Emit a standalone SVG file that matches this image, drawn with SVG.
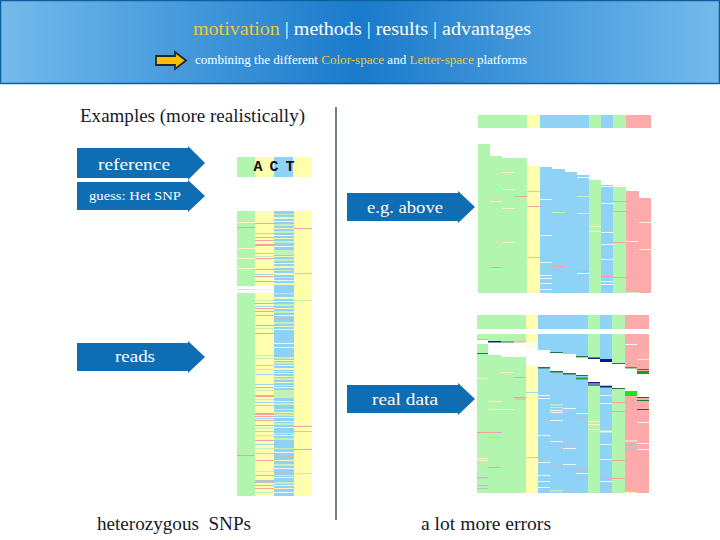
<svg xmlns="http://www.w3.org/2000/svg" width="720" height="540" viewBox="0 0 720 540">
<defs>
<linearGradient id="hdr" x1="0" y1="0" x2="1" y2="0">
<stop offset="0" stop-color="#74baec"/>
<stop offset="0.5" stop-color="#1a7acb"/>
<stop offset="1" stop-color="#74baec"/>
</linearGradient>
<style>
text{font-family:"Liberation Serif","DejaVu Serif",serif}
text.mono{font-family:"Liberation Mono","DejaVu Sans Mono",monospace;font-weight:bold;font-size:15px;fill:#111}
.dk{fill:#161a28}
.wt{fill:#ffffff}
.hl{fill:#ecc83a}
.ar{fill:#0e6db3}
.G{fill:#b2f5ae}
.Y{fill:#ffffae}
.B{fill:#8ed2f8}
.P{fill:#ffaaaa}
.W{fill:#ffffff}
.lp{fill:#f2a4a0}
.lb{fill:#a8d4f4}
.lg{fill:#c4f0b8}
.ly{fill:#f8f8b4}
.lw{fill:#eef6fa}
.lr{fill:#b8c2cc}
.dg{fill:#1f7a3f}
.nv{fill:#14207a}
</style>
</defs>

<g id="header">
<rect x="0.5" y="0.5" width="719" height="83" fill="url(#hdr)" stroke="#0d5f9f" stroke-width="1.5"/>
<text x="193" y="35" font-size="18" textLength="338" lengthAdjust="spacingAndGlyphs"><tspan class="hl">motivation</tspan><tspan class="wt"> | methods | results | advantages</tspan></text>
<path d="M156 56 H175 V52 L186 60.5 L175 69 V65 H156 Z" fill="#f8c000" stroke="#1c2838" stroke-width="1.8"/>
<text x="195" y="64" font-size="12" textLength="332" lengthAdjust="spacingAndGlyphs"><tspan class="wt">combining the different </tspan><tspan class="hl">Color-space</tspan><tspan class="wt"> and </tspan><tspan class="hl">Letter-space</tspan><tspan class="wt"> platforms</tspan></text>
</g>

<text class="dk" x="80" y="122" font-size="18" textLength="225" lengthAdjust="spacingAndGlyphs">Examples (more realistically)</text>

<g id="connectors">
<line x1="336" y1="107" x2="336" y2="520" stroke="#2a3a50" stroke-width="1.3"/>
</g>

<g id="node-reference">
<path class="ar" d="M77 148 H188 V146 L205 163 L188 180 V178 H77 Z"/>
<text class="wt" x="134" y="170" font-size="17" text-anchor="middle" textLength="72" lengthAdjust="spacingAndGlyphs">reference</text>
</g>
<g id="node-guess">
<path class="ar" d="M77 182 H188 V180 L205 196 L188 212 V210 H77 Z"/>
<text class="wt" x="135" y="200" font-size="13" text-anchor="middle" textLength="92" lengthAdjust="spacingAndGlyphs">guess: Het SNP</text>
</g>
<g id="node-reads">
<path class="ar" d="M77 343 H188 V341 L205 357 L188 373 V371 H77 Z"/>
<text class="wt" x="135" y="362" font-size="17" text-anchor="middle" textLength="40" lengthAdjust="spacingAndGlyphs">reads</text>
</g>
<g id="node-eg-above">
<path class="ar" d="M347 193 H458 V191 L475 207 L458 223 V221 H347 Z"/>
<text class="wt" x="405" y="213" font-size="17" text-anchor="middle" textLength="76" lengthAdjust="spacingAndGlyphs">e.g. above</text>
</g>
<g id="node-real-data">
<path class="ar" d="M347 385 H458 V383 L475 399 L458 415 V413 H347 Z"/>
<text class="wt" x="405" y="405" font-size="17" text-anchor="middle" textLength="66" lengthAdjust="spacingAndGlyphs">real data</text>
</g>

<g id="node-ref-seq">
<rect x="237" y="157" width="18" height="20" class="G"/>
<rect x="255" y="157" width="19" height="20" class="Y"/>
<rect x="274" y="157" width="19" height="20" class="B"/>
<rect x="293" y="157" width="19" height="20" class="Y"/>
<text class="mono" x="258" y="171" text-anchor="middle">A</text>
<text class="mono" x="274" y="171" text-anchor="middle">C</text>
<text class="mono" x="290" y="171" text-anchor="middle">T</text>
</g>

<g id="node-left-reads">
<rect x="237" y="211" width="18" height="285" class="G"/>
<rect x="255" y="211" width="19" height="285" class="Y"/>
<rect x="274" y="211" width="20" height="285" class="B"/>
<rect x="294" y="211" width="18" height="285" class="Y"/>
<rect x="237" y="222" width="18" height="1" class="ly"/>
<rect x="237" y="227" width="18" height="1" class="lp"/>
<rect x="237" y="248" width="18" height="1" class="ly"/>
<rect x="237" y="258" width="18" height="1" class="ly"/>
<rect x="237" y="268" width="18" height="1" class="ly"/>
<rect x="237" y="286" width="37" height="7" class="W"/>
<rect x="237" y="289" width="18" height="1" class="lg"/>
<rect x="255" y="289" width="19" height="1" class="ly"/>
<rect x="237" y="455" width="18" height="1" class="lp"/>
<rect x="255" y="223" width="19" height="1" class="lp"/>
<rect x="255" y="233" width="19" height="1" class="lb"/>
<rect x="255" y="237" width="19" height="1" class="lp"/>
<rect x="255" y="240" width="19" height="1" class="lp"/>
<rect x="255" y="244" width="19" height="2" class="lp"/>
<rect x="255" y="253" width="19" height="1" class="lb"/>
<rect x="255" y="256" width="19" height="1" class="lg"/>
<rect x="255" y="258" width="19" height="1" class="lp"/>
<rect x="255" y="269" width="19" height="1" class="lp"/>
<rect x="255" y="274" width="19" height="1" class="lb"/>
<rect x="255" y="276" width="19" height="1" class="lp"/>
<rect x="255" y="281" width="19" height="1" class="lp"/>
<rect x="255" y="300" width="19" height="1" class="lg"/>
<rect x="255" y="303" width="19" height="1" class="lp"/>
<rect x="255" y="306" width="19" height="1" class="lb"/>
<rect x="255" y="308" width="19" height="1" class="lp"/>
<rect x="255" y="311" width="19" height="1" class="lp"/>
<rect x="255" y="315" width="19" height="1" class="lp"/>
<rect x="255" y="325" width="19" height="1" class="lp"/>
<rect x="255" y="328" width="19" height="1" class="lg"/>
<rect x="255" y="333" width="19" height="1" class="lp"/>
<rect x="255" y="355" width="19" height="1" class="lg"/>
<rect x="255" y="358" width="19" height="1" class="lg"/>
<rect x="255" y="365" width="19" height="1" class="lb"/>
<rect x="255" y="369" width="19" height="1" class="lg"/>
<rect x="255" y="374" width="19" height="1" class="lb"/>
<rect x="255" y="384" width="19" height="1" class="lb"/>
<rect x="255" y="387" width="19" height="1" class="lp"/>
<rect x="255" y="390" width="19" height="1" class="lg"/>
<rect x="255" y="395" width="19" height="2" class="lp"/>
<rect x="255" y="399" width="19" height="1" class="lg"/>
<rect x="255" y="402" width="19" height="1" class="lb"/>
<rect x="255" y="405" width="19" height="1" class="lb"/>
<rect x="255" y="413" width="19" height="2" class="lp"/>
<rect x="255" y="416" width="19" height="1" class="lp"/>
<rect x="255" y="418" width="19" height="1" class="lb"/>
<rect x="255" y="420" width="19" height="1" class="lp"/>
<rect x="255" y="425" width="19" height="1" class="lp"/>
<rect x="255" y="428" width="19" height="1" class="lg"/>
<rect x="255" y="431" width="19" height="1" class="lb"/>
<rect x="255" y="435" width="19" height="1" class="lg"/>
<rect x="255" y="440" width="19" height="1" class="lp"/>
<rect x="255" y="444" width="19" height="1" class="lb"/>
<rect x="255" y="448" width="19" height="1" class="lg"/>
<rect x="255" y="453" width="19" height="1" class="lb"/>
<rect x="255" y="460" width="19" height="1" class="lp"/>
<rect x="255" y="471" width="19" height="1" class="lg"/>
<rect x="255" y="475" width="19" height="1" class="lp"/>
<rect x="255" y="480" width="19" height="3" class="lr"/>
<rect x="255" y="485" width="19" height="1" class="lr"/>
<rect x="255" y="488" width="19" height="1" class="lp"/>
<rect x="255" y="492" width="19" height="1" class="lg"/>
<rect x="274" y="214" width="20" height="1" class="lg"/>
<rect x="274" y="217" width="20" height="2" class="ly"/>
<rect x="274" y="221" width="20" height="1" class="lw"/>
<rect x="274" y="224" width="20" height="2" class="lg"/>
<rect x="274" y="228" width="20" height="1" class="ly"/>
<rect x="274" y="231" width="20" height="2" class="lg"/>
<rect x="274" y="235" width="20" height="1" class="lw"/>
<rect x="274" y="238" width="20" height="1" class="ly"/>
<rect x="274" y="241" width="20" height="2" class="lg"/>
<rect x="274" y="246" width="20" height="1" class="lw"/>
<rect x="274" y="250" width="20" height="5" class="lg"/>
<rect x="274" y="256" width="20" height="1" class="ly"/>
<rect x="274" y="259" width="20" height="2" class="lg"/>
<rect x="274" y="263" width="20" height="1" class="lw"/>
<rect x="274" y="266" width="20" height="2" class="ly"/>
<rect x="274" y="270" width="20" height="1" class="lg"/>
<rect x="274" y="273" width="20" height="2" class="ly"/>
<rect x="274" y="277" width="20" height="1" class="lg"/>
<rect x="274" y="280" width="20" height="1" class="lw"/>
<rect x="274" y="283" width="20" height="2" class="ly"/>
<rect x="274" y="293" width="20" height="1" class="lg"/>
<rect x="274" y="297" width="20" height="2" class="ly"/>
<rect x="274" y="301" width="20" height="1" class="lw"/>
<rect x="274" y="304" width="20" height="2" class="lg"/>
<rect x="274" y="308" width="20" height="1" class="ly"/>
<rect x="274" y="311" width="20" height="2" class="lg"/>
<rect x="274" y="315" width="20" height="1" class="lw"/>
<rect x="274" y="318" width="20" height="1" class="lr"/>
<rect x="274" y="322" width="20" height="2" class="lg"/>
<rect x="274" y="326" width="20" height="1" class="ly"/>
<rect x="274" y="329" width="20" height="1" class="lw"/>
<rect x="274" y="343" width="20" height="1" class="lw"/>
<rect x="274" y="347" width="20" height="1" class="lw"/>
<rect x="274" y="355" width="20" height="1" class="lr"/>
<rect x="274" y="357" width="20" height="2" class="lg"/>
<rect x="274" y="360" width="20" height="1" class="ly"/>
<rect x="274" y="362" width="20" height="2" class="lg"/>
<rect x="274" y="365" width="20" height="1" class="lw"/>
<rect x="274" y="368" width="20" height="2" class="ly"/>
<rect x="274" y="371" width="20" height="1" class="lg"/>
<rect x="274" y="373" width="20" height="1" class="lw"/>
<rect x="274" y="376" width="20" height="1" class="ly"/>
<rect x="274" y="378" width="20" height="2" class="lg"/>
<rect x="274" y="382" width="20" height="1" class="ly"/>
<rect x="274" y="385" width="20" height="1" class="lg"/>
<rect x="274" y="387" width="20" height="1" class="lw"/>
<rect x="274" y="390" width="20" height="8" class="lg"/>
<rect x="274" y="401" width="20" height="1" class="ly"/>
<rect x="274" y="403" width="20" height="2" class="lg"/>
<rect x="274" y="407" width="20" height="1" class="lr"/>
<rect x="274" y="409" width="20" height="1" class="lg"/>
<rect x="274" y="412" width="20" height="1" class="ly"/>
<rect x="274" y="414" width="20" height="2" class="lg"/>
<rect x="274" y="417" width="20" height="1" class="lw"/>
<rect x="274" y="421" width="20" height="1" class="ly"/>
<rect x="274" y="423" width="20" height="2" class="lg"/>
<rect x="274" y="427" width="20" height="1" class="ly"/>
<rect x="274" y="429" width="20" height="1" class="lr"/>
<rect x="274" y="433" width="20" height="1" class="lg"/>
<rect x="274" y="435" width="20" height="1" class="ly"/>
<rect x="274" y="438" width="20" height="2" class="lg"/>
<rect x="274" y="448" width="20" height="1" class="lg"/>
<rect x="274" y="452" width="20" height="1" class="lw"/>
<rect x="274" y="456" width="20" height="1" class="lr"/>
<rect x="274" y="460" width="20" height="1" class="ly"/>
<rect x="274" y="464" width="20" height="2" class="lg"/>
<rect x="274" y="468" width="20" height="1" class="lw"/>
<rect x="274" y="472" width="20" height="1" class="lr"/>
<rect x="274" y="475" width="20" height="1" class="lg"/>
<rect x="274" y="477" width="20" height="1" class="ly"/>
<rect x="274" y="482" width="20" height="2" class="lg"/>
<rect x="274" y="485" width="20" height="1" class="lw"/>
<rect x="274" y="488" width="20" height="1" class="ly"/>
<rect x="274" y="492" width="20" height="1" class="lw"/>
<rect x="294" y="228" width="18" height="1" class="lp"/>
<rect x="294" y="273" width="18" height="1" class="lb"/>
<rect x="294" y="300" width="18" height="1" class="lg"/>
<rect x="294" y="426" width="18" height="1" class="lp"/>
<rect x="294" y="431" width="18" height="1" class="lb"/>
<rect x="294" y="449" width="18" height="1" class="lp"/>
<rect x="294" y="473" width="18" height="1" class="lg"/>
</g>

<g id="node-pileup-top">
<rect x="478" y="115" width="49" height="13" class="G"/>
<rect x="527" y="115" width="13" height="13" class="Y"/>
<rect x="540" y="115" width="49" height="13" class="B"/>
<rect x="589" y="115" width="12" height="13" class="G"/>
<rect x="601" y="115" width="12" height="13" class="B"/>
<rect x="613" y="115" width="13" height="13" class="G"/>
<rect x="626" y="115" width="25" height="13" class="P"/>
<rect x="478" y="144" width="12" height="149" class="G"/>
<rect x="490" y="156" width="12" height="137" class="G"/>
<rect x="502" y="158" width="25" height="135" class="G"/>
<rect x="527" y="166" width="13" height="127" class="Y"/>
<rect x="540" y="167" width="12" height="126" class="B"/>
<rect x="552" y="169" width="13" height="124" class="B"/>
<rect x="565" y="172" width="12" height="121" class="B"/>
<rect x="577" y="175" width="12" height="118" class="B"/>
<rect x="589" y="180" width="12" height="113" class="G"/>
<rect x="601" y="185" width="12" height="108" class="B"/>
<rect x="613" y="187" width="13" height="106" class="G"/>
<rect x="626" y="191" width="13" height="102" class="P"/>
<rect x="639" y="198" width="12" height="95" class="P"/>
<rect x="502" y="172" width="13" height="1" class="ly"/>
<rect x="502" y="189" width="13" height="1" class="ly"/>
<rect x="490" y="201" width="12" height="1" class="ly"/>
<rect x="502" y="208" width="13" height="1" class="ly"/>
<rect x="515" y="196" width="12" height="1" class="lp"/>
<rect x="502" y="242" width="13" height="1" class="ly"/>
<rect x="490" y="267" width="12" height="1" class="lp"/>
<rect x="527" y="191" width="13" height="1" class="lb"/>
<rect x="527" y="206" width="13" height="1" class="lp"/>
<rect x="527" y="257" width="13" height="1" class="lb"/>
<rect x="540" y="199" width="12" height="1" class="lw"/>
<rect x="552" y="212" width="13" height="1" class="lg"/>
<rect x="577" y="177" width="12" height="1" class="lw"/>
<rect x="577" y="196" width="12" height="1" class="lg"/>
<rect x="577" y="213" width="12" height="1" class="lg"/>
<rect x="540" y="235" width="12" height="1" class="lw"/>
<rect x="540" y="262" width="12" height="1" class="lw"/>
<rect x="552" y="266" width="13" height="1" class="lp"/>
<rect x="577" y="271" width="12" height="1" class="lp"/>
<rect x="577" y="273" width="12" height="1" class="lw"/>
<rect x="540" y="275" width="12" height="1" class="lw"/>
<rect x="540" y="278" width="12" height="1" class="lw"/>
<rect x="540" y="283" width="12" height="1" class="lw"/>
<rect x="540" y="289" width="12" height="1" class="lw"/>
<rect x="589" y="226" width="12" height="1" class="ly"/>
<rect x="589" y="231" width="12" height="1" class="ly"/>
<rect x="601" y="186" width="12" height="1" class="lw"/>
<rect x="601" y="203" width="12" height="1" class="lw"/>
<rect x="601" y="232" width="12" height="1" class="lw"/>
<rect x="601" y="244" width="12" height="1" class="lw"/>
<rect x="601" y="259" width="12" height="1" class="lw"/>
<rect x="601" y="276" width="12" height="1" class="lp"/>
<rect x="601" y="281" width="12" height="1" class="lw"/>
<rect x="601" y="284" width="12" height="1" class="lw"/>
<rect x="613" y="201" width="13" height="1" class="lp"/>
<rect x="613" y="211" width="13" height="1" class="lp"/>
<rect x="613" y="242" width="13" height="1" class="lp"/>
<rect x="613" y="277" width="13" height="1" class="lp"/>
<rect x="639" y="222" width="12" height="1" class="ly"/>
<rect x="626" y="241" width="13" height="1" class="ly"/>
<rect x="639" y="249" width="12" height="1" class="ly"/>
<rect x="626" y="292" width="13" height="1" class="lg"/>
</g>

<g id="node-pileup-bottom">
<rect x="477" y="315" width="49" height="14" class="G"/>
<rect x="526" y="315" width="12" height="14" class="Y"/>
<rect x="538" y="315" width="50" height="14" class="B"/>
<rect x="588" y="315" width="12" height="14" class="G"/>
<rect x="600" y="315" width="12" height="14" class="B"/>
<rect x="612" y="315" width="13" height="14" class="G"/>
<rect x="625" y="315" width="24" height="14" class="P"/>
<rect x="477" y="334" width="49" height="159" class="G"/>
<rect x="526" y="334" width="12" height="159" class="Y"/>
<rect x="538" y="334" width="50" height="159" class="B"/>
<rect x="588" y="334" width="12" height="159" class="G"/>
<rect x="600" y="334" width="12" height="159" class="B"/>
<rect x="612" y="334" width="13" height="159" class="G"/>
<rect x="625" y="334" width="24" height="159" class="P"/>
<rect x="477" y="339" width="11" height="1" class="lr"/>
<rect x="477" y="340" width="11" height="4" class="W"/>
<rect x="488" y="342" width="13" height="13" class="W"/>
<rect x="501" y="342" width="25" height="15" class="W"/>
<rect x="526" y="341" width="12" height="7" fill="#fffde0"/>
<rect x="526" y="348" width="12" height="18" class="W"/>
<rect x="538" y="350" width="12" height="17" class="W"/>
<rect x="550" y="353" width="13" height="18" class="W"/>
<rect x="563" y="354" width="13" height="19" class="W"/>
<rect x="576" y="358" width="12" height="17" class="W"/>
<rect x="588" y="359" width="12" height="23" class="W"/>
<rect x="600" y="362" width="12" height="23" class="W"/>
<rect x="612" y="364" width="13" height="24" class="W"/>
<rect x="625" y="368" width="12" height="23" class="W"/>
<rect x="637" y="374" width="12" height="23" class="W"/>
<rect x="488" y="341" width="13" height="1.5" class="nv"/>
<rect x="501" y="341.5" width="13" height="1" class="dg"/>
<rect x="514" y="341.5" width="12" height="1" class="lp"/>
<rect x="477" y="353" width="11" height="1" class="dg"/>
<rect x="538" y="367" width="12" height="1.5" class="dg"/>
<rect x="550" y="352" width="13" height="1" class="dg"/>
<rect x="550" y="371" width="13" height="1.5" class="dg"/>
<rect x="563" y="373" width="13" height="1.5" class="dg"/>
<rect x="576" y="347" width="12" height="1" class="lr"/>
<rect x="576" y="356" width="12" height="1" class="dg"/>
<rect x="576" y="375" width="12" height="1" class="dg"/>
<rect x="576" y="377.5" width="12" height="2" fill="#20a040"/>
<rect x="588" y="357.5" width="12" height="1.5" class="nv"/>
<rect x="588" y="382" width="12" height="1.5" class="nv"/>
<rect x="588" y="384.5" width="12" height="1" class="nv"/>
<rect x="600" y="359" width="12" height="3" fill="#0a1a80"/>
<rect x="600" y="386" width="12" height="1.5" class="nv"/>
<rect x="612" y="363" width="13" height="1" class="dg"/>
<rect x="612" y="388" width="13" height="1" class="dg"/>
<rect x="625" y="367" width="12" height="1.5" fill="#40a040"/>
<rect x="625" y="391" width="12" height="5" fill="#22e022"/>
<rect x="637" y="369" width="12" height="1" class="dg"/>
<rect x="637" y="371" width="12" height="3" fill="#1a9a2a"/>
<rect x="637" y="397" width="12" height="1" fill="#6030a0"/>
<rect x="637" y="400" width="12" height="1" class="dg"/>
<rect x="637" y="409" width="12" height="1" fill="#6030a0"/>
<rect x="501" y="372" width="13" height="1" class="ly"/>
<rect x="514" y="377" width="12" height="1" class="lp"/>
<rect x="477" y="378" width="11" height="1" class="ly"/>
<rect x="514" y="397" width="12" height="1" class="lp"/>
<rect x="514" y="398.5" width="12" height="1" class="lp"/>
<rect x="488" y="401" width="13" height="1" class="ly"/>
<rect x="488" y="409" width="13" height="1" class="ly"/>
<rect x="501" y="409" width="13" height="1" class="ly"/>
<rect x="477" y="432" width="24" height="1" class="lp"/>
<rect x="488" y="437" width="13" height="1" class="lb"/>
<rect x="477" y="458" width="11" height="1" class="ly"/>
<rect x="477" y="460" width="11" height="1" class="ly"/>
<rect x="488" y="467" width="13" height="1" class="lp"/>
<rect x="477" y="477" width="11" height="1.5" class="lr"/>
<rect x="477" y="485" width="11" height="1" class="lr"/>
<rect x="477" y="488" width="11" height="1" class="lr"/>
<rect x="526" y="392" width="12" height="1" class="lb"/>
<rect x="526" y="457" width="12" height="1" class="lb"/>
<rect x="538" y="395" width="12" height="1" class="lw"/>
<rect x="538" y="398" width="12" height="1" class="lw"/>
<rect x="550" y="404" width="13" height="1.5" class="lg"/>
<rect x="550" y="407" width="13" height="1" class="lg"/>
<rect x="550" y="410" width="13" height="1" class="lw"/>
<rect x="550" y="412" width="13" height="1" class="lw"/>
<rect x="563" y="408" width="13" height="1" class="lw"/>
<rect x="576" y="413" width="12" height="1" class="lw"/>
<rect x="576" y="417" width="12" height="1.5" class="lr"/>
<rect x="550" y="420" width="13" height="1" class="lw"/>
<rect x="538" y="435" width="12" height="1" class="lw"/>
<rect x="550" y="441" width="13" height="1" class="lw"/>
<rect x="563" y="444" width="13" height="1" class="lr"/>
<rect x="563" y="448" width="13" height="1" class="lw"/>
<rect x="538" y="462" width="12" height="1" class="lw"/>
<rect x="550" y="466" width="13" height="1" class="lr"/>
<rect x="563" y="464" width="13" height="1" class="lw"/>
<rect x="576" y="469" width="12" height="3" class="lr"/>
<rect x="576" y="473" width="12" height="1" class="lw"/>
<rect x="538" y="475" width="12" height="1" class="lw"/>
<rect x="538" y="481" width="12" height="1" class="lw"/>
<rect x="538" y="487" width="12" height="1" class="lw"/>
<rect x="550" y="490" width="13" height="1.5" class="lg"/>
<rect x="588" y="421" width="12" height="1" class="ly"/>
<rect x="588" y="424" width="12" height="1" class="ly"/>
<rect x="588" y="429" width="12" height="1" class="ly"/>
<rect x="600" y="395" width="12" height="1" class="lw"/>
<rect x="600" y="403" width="12" height="1" class="lw"/>
<rect x="600" y="430.5" width="12" height="2" class="ly"/>
<rect x="600" y="444" width="12" height="1" class="lw"/>
<rect x="600" y="459" width="12" height="1" class="lw"/>
<rect x="600" y="478" width="12" height="1.5" class="lr"/>
<rect x="600" y="481" width="12" height="1" class="lw"/>
<rect x="600" y="487" width="12" height="1.5" class="lr"/>
<rect x="612" y="402" width="13" height="1" class="lp"/>
<rect x="612" y="411" width="13" height="1" class="lp"/>
<rect x="612" y="460" width="13" height="1" class="lp"/>
<rect x="612" y="478" width="13" height="1" class="lp"/>
<rect x="625" y="344" width="12" height="1" class="lw"/>
<rect x="637" y="359" width="12" height="1" class="ly"/>
<rect x="637" y="422" width="12" height="1" class="lw"/>
<rect x="625" y="440.5" width="12" height="1" class="lw"/>
<rect x="625" y="443" width="12" height="3" class="lr"/>
<rect x="625" y="448" width="12" height="1" class="lr"/>
<rect x="637" y="443" width="12" height="1" class="lw"/>
<rect x="637" y="449" width="12" height="1" class="lw"/>
<rect x="625" y="492" width="12" height="1" class="ly"/>
</g>

<text class="dk" x="97" y="530" font-size="18" xml:space="preserve" textLength="154" lengthAdjust="spacingAndGlyphs">heterozygous  SNPs</text>
<text class="dk" x="421" y="530" font-size="18" textLength="130" lengthAdjust="spacingAndGlyphs">a lot more errors</text>
</svg>
